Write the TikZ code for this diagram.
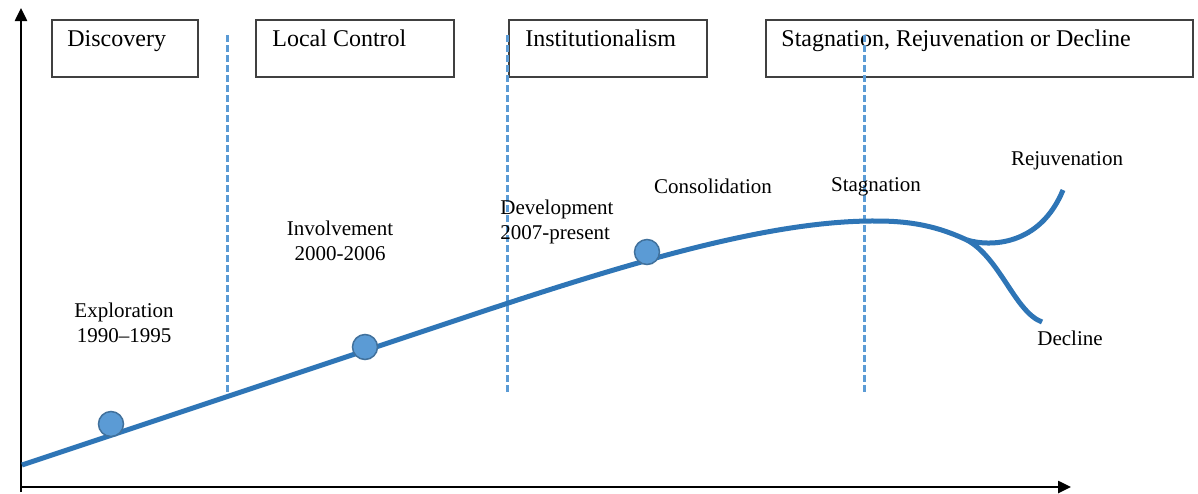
\documentclass[tikz,border=0pt]{standalone}
\usepackage{fontspec}
\setmainfont{Liberation Serif}
\usetikzlibrary{arrows.meta}
\definecolor{curveblue}{HTML}{2E75B6}
\definecolor{dotblue}{HTML}{5B9BD5}
\definecolor{dotedge}{HTML}{41719C}
\begin{document}
\begin{tikzpicture}[x=0.5pt,y=-0.5pt,
    phasebox/.style={draw=black!75, line width=0.75pt, anchor=north west, inner sep=0pt, minimum height=28.5pt},
    phasename/.style={anchor=base west, inner sep=0pt, font=\fontsize{12}{14}\selectfont},
    stagename/.style={align=center, inner sep=0pt, font=\fontsize{10.5}{12.5}\selectfont},
    phaseline/.style={dotblue, line width=1.5pt, dash pattern=on 3.5pt off 1.5pt},
    axis/.style={line width=1.25pt, -{Triangle[length=6.5pt,width=6pt]}},
    stagedot/.style={circle, fill=dotblue, draw=dotedge, line width=0.75pt, minimum size=12.5pt, inner sep=0pt}]
  \useasboundingbox (0,0) rectangle (1198,493);
  % axes
  \coordinate (origin) at (21,492);
  \coordinate (ytip) at (21,8);
  \coordinate (xtip) at (1071,487);
  \draw[axis] (origin) -- (ytip);
  \draw[axis] (21,487) -- (xtip);
  % phase boxes
  \node[phasebox, minimum width=73pt] (discovery) at (51,19) {};
  \node[phasebox, minimum width=99pt] (local) at (255,19) {};
  \node[phasebox, minimum width=99pt] (inst) at (508,19) {};
  \node[phasebox, minimum width=213.5pt] (stagbox) at (765,19) {};
  \node[phasename] (discoveryname) at ([shift={(16,27)}]discovery.north west) {Discovery};
  \node[phasename] (localname) at ([shift={(17,27)}]local.north west) {Local Control};
  \node[phasename] (instname) at ([shift={(17,27)}]inst.north west) {Institutionalism};
  \node[phasename] (stagboxname) at ([shift={(16,27)}]stagbox.north west) {Stagnation, Rejuvenation or Decline};
  \foreach \x in {227,507,864}{
    \draw[phaseline] (\x,35) -- (\x,392);
    }
  % life cycle curve
  \coordinate (start) at (22,465);
  \coordinate (peak) at (877,221);
  \coordinate (fork) at (967,240);
  \coordinate (rejuvend) at (1063,190);
  \coordinate (declend) at (1042,322);
  \draw[curveblue, line width=2.5pt] (start) -- (430,329) .. controls (600,272) and (760,220) .. (peak)
    .. controls (920,221) and (945,230) .. (fork);
  \draw[curveblue, line width=2.5pt] (fork) .. controls (990,247) and (1040,246) .. (rejuvend);
  \draw[curveblue, line width=2.5pt] (fork) .. controls (1000,258) and (1015,312) .. (declend);
  \node[stagedot] (dot1) at (111,424) {};
  \node[stagedot] (dot2) at (365,347) {};
  \node[stagedot] (dot3) at (647,252) {};
  % stage labels
  \node[stagename] (explo) at (124,323) {Exploration\\1990--1995};
  \node[stagename] (invol) at (340,241) {Involvement\\2000-2006};
  \node[stagename, align=left, anchor=west] (devel) at (500,222) {Development\\2007-present};
  \node[stagename] (consol) at (713,186) {Consolidation};
  \node[stagename] (stagn) at (876,187) {Stagnation};
  \node[stagename] (rejuv) at (1067,161) {Rejuvenation};
  \node[stagename] (decl) at (1070,338) {Decline};
\end{tikzpicture}
\end{document}
